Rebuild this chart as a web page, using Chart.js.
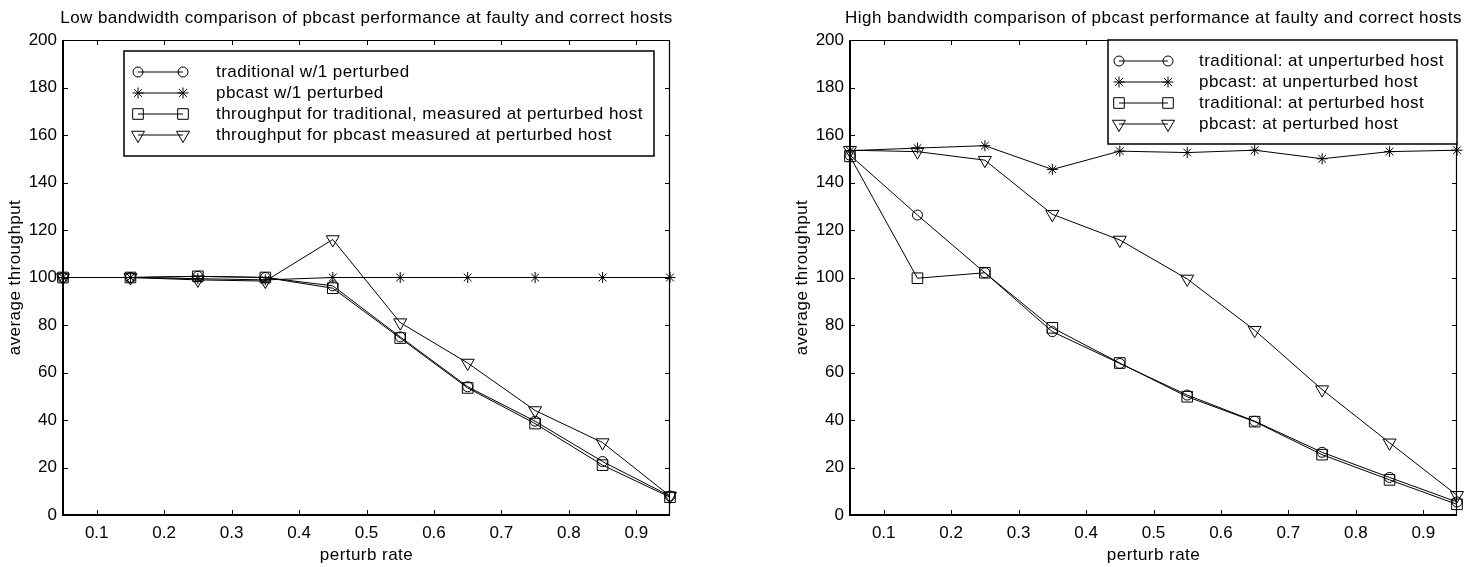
<!DOCTYPE html>
<html>
<head>
<meta charset="utf-8">
<title>pbcast throughput at faulty and correct hosts</title>
<script src="https://cdn.jsdelivr.net/npm/chart.js@4.4.1/dist/chart.umd.min.js"></script>
<style>
  body { margin: 0; background: #fff; }
  .box { position: absolute; top: 0; height: 567px; }
  #boxLow { left: 0; width: 700px; }
  #boxHigh { left: 740px; width: 743px; }
</style>
</head>
<body>
<div class="box" id="boxLow"><canvas id="lowChart" width="700" height="567"></canvas></div>
<div class="box" id="boxHigh"><canvas id="highChart" width="743" height="567"></canvas></div>
<script>
const perturbRates = [0.05, 0.15, 0.25, 0.35, 0.45, 0.55, 0.65, 0.75, 0.85, 0.95];
const xTicks = [0.1, 0.2, 0.3, 0.4, 0.5, 0.6, 0.7, 0.8, 0.9];
const yTicks = [0, 20, 40, 60, 80, 100, 120, 140, 160, 180, 200];

// low bandwidth run
const lowLabels = [
    'traditional w/1 perturbed',
    'pbcast w/1 perturbed',
    'throughput for traditional, measured at perturbed host',
    'throughput for pbcast measured at perturbed host'
];
const lowTraditional = [100, 100, 100.5, 100, 96.5, 75, 54, 39.5, 22.5, 8];
const lowPbcast = [100, 100, 99.5, 99, 100, 100, 100, 100, 100, 100];
const lowTradPerturbed = [100, 100, 100.5, 100, 95.5, 74.5, 53.5, 38.5, 21, 7.5];
const lowPbcastPerturbed = [100, 100, 99, 98.5, 116, 81, 64, 44, 30.5, 8];

// high bandwidth run
const highLabels = [
    'traditional: at unperturbed host',
    'pbcast: at unperturbed host',
    'traditional: at perturbed host',
    'pbcast: at perturbed host'
];
const highTraditional = [151.5, 126.3, 102, 77.2, 63.8, 50.5, 39.5, 26.4, 15.8, 5.5];
const highPbcast = [153.4, 154.5, 155.5, 145.5, 153.2, 152.6, 153.6, 150, 153, 153.6];
const highTradPerturbed = [151, 99.7, 102, 78.8, 64, 49.8, 39.3, 25.4, 14.8, 4.5];
const highPbcastPerturbed = [153.6, 153, 149.4, 126.6, 115.8, 99.4, 77.8, 52.8, 30.4, 8.3];

const FONT = "'Liberation Sans', Arial, sans-serif";
Chart.defaults.font.family = FONT;
Chart.defaults.font.size = 17;
Chart.defaults.color = '#000';

// marker per series, same order in both plots
const markers = [
    { style: 'circle', radius: 5, rotation: 0 },
    { style: 'star', radius: 5.5, rotation: 0 },
    { style: 'rect', radius: 7.5, rotation: 0 },
    { style: 'triangle', radius: 7.5, rotation: 180 }
];

function buildDatasets(labels, lists) {
    return lists.map((vals, i) => ({
        label: labels[i],
        data: perturbRates.map((x, j) => ({ x: x, y: vals[j] })),
        borderColor: '#000',
        borderWidth: 1,
        pointStyle: markers[i].style,
        pointRadius: markers[i].radius,
        pointRotation: markers[i].rotation,
        pointBorderColor: '#000',
        pointBackgroundColor: 'rgba(0,0,0,0)',
        pointBorderWidth: 1,
        pointHoverRadius: markers[i].radius,
        tension: 0,
        fill: false,
        clip: false
    }));
}

// box, inward ticks, titles and the matlab style legend
const matlabFrame = {
    id: 'matlabFrame',
    afterDatasetsDraw(chart, args, opts) {
        const ctx = chart.ctx;
        const a = chart.chartArea;
        const xs = chart.scales.x;
        const ys = chart.scales.y;
        ctx.save();
        ctx.strokeStyle = '#000';
        ctx.fillStyle = '#000';

        // frame
        ctx.lineWidth = 1.2;
        ctx.beginPath();
        ctx.moveTo(a.left, a.top + 0.5);
        ctx.lineTo(a.right, a.top + 0.5);
        ctx.moveTo(a.right - 0.5, a.top);
        ctx.lineTo(a.right - 0.5, a.bottom);
        ctx.stroke();
        ctx.lineWidth = 2;
        ctx.beginPath();
        ctx.moveTo(a.left, a.top);
        ctx.lineTo(a.left, a.bottom);
        ctx.lineTo(a.right, a.bottom);
        ctx.stroke();

        // ticks pointing in
        ctx.lineWidth = 1;
        ctx.beginPath();
        xTicks.forEach(v => {
            const px = Math.round(xs.getPixelForValue(v)) + 0.5;
            ctx.moveTo(px, a.bottom); ctx.lineTo(px, a.bottom - 5);
            ctx.moveTo(px, a.top); ctx.lineTo(px, a.top + 5);
        });
        yTicks.forEach(v => {
            const py = Math.round(ys.getPixelForValue(v)) + 0.5;
            ctx.moveTo(a.left, py); ctx.lineTo(a.left + 5, py);
            ctx.moveTo(a.right, py); ctx.lineTo(a.right - 5, py);
        });
        ctx.stroke();

        // titles
        ctx.font = '17px ' + FONT;
        ctx.letterSpacing = '0.45px';
        ctx.textAlign = 'center';
        ctx.textBaseline = 'alphabetic';
        ctx.fillText(opts.title, (a.left + a.right) / 2, 23);
        ctx.fillText('perturb rate', (a.left + a.right) / 2, 560);
        ctx.save();
        ctx.translate(a.left - 48, (a.top + a.bottom) / 2);
        ctx.rotate(-Math.PI / 2);
        ctx.textBaseline = 'middle';
        ctx.fillText('average throughput', 0, 0);
        ctx.restore();

        // legend
        const lg = opts.legend;
        const bx = lg.right ? a.right - lg.width : a.left + lg.left;
        const by = a.top + lg.top;
        ctx.fillStyle = '#fff';
        ctx.fillRect(bx, by, lg.width, lg.height);
        ctx.lineWidth = 1.5;
        ctx.strokeRect(bx, by, lg.width, lg.height);
        ctx.textAlign = 'left';
        ctx.textBaseline = 'middle';
        chart.data.datasets.forEach((ds, i) => {
            const ry = by + 21 + i * 21;
            const x1 = bx + lg.lineFrom;
            const x2 = bx + lg.lineTo;
            ctx.strokeStyle = '#000';
            ctx.lineWidth = 1;
            ctx.beginPath();
            ctx.moveTo(x1, ry);
            ctx.lineTo(x2, ry);
            ctx.stroke();
            ctx.fillStyle = 'rgba(0,0,0,0)';
            const m = { pointStyle: markers[i].style, radius: markers[i].radius, rotation: markers[i].rotation, borderWidth: 1 };
            if (Chart.helpers && Chart.helpers.drawPoint) {
                Chart.helpers.drawPoint(ctx, m, x1, ry);
                Chart.helpers.drawPoint(ctx, m, x2, ry);
            }
            ctx.fillStyle = '#000';
            ctx.fillText(ds.label, bx + lg.text, ry);
        });
        ctx.restore();
    }
};

function makeChart(canvasId, labels, lists, title, axisWidth, rightPad, legend) {
    return new Chart(document.getElementById(canvasId), {
        type: 'line',
        data: { datasets: buildDatasets(labels, lists) },
        options: {
            responsive: false,
            animation: false,
            devicePixelRatio: 1,
            layout: { padding: { left: 0, top: 40, right: rightPad, bottom: 0 } },
            plugins: {
                legend: { display: false },
                tooltip: { enabled: false },
                matlabFrame: { title: title, legend: legend }
            },
            scales: {
                x: {
                    type: 'linear',
                    min: 0.05,
                    max: 0.95,
                    grid: { display: false, drawTicks: false, tickLength: 0 },
                    border: { display: false },
                    afterBuildTicks: s => { s.ticks = xTicks.map(v => ({ value: v })); },
                    afterFit: s => { s.height = 52; },
                    ticks: { padding: 8, maxRotation: 0, autoSkip: false }
                },
                y: {
                    min: 0,
                    max: 200,
                    grid: { display: false, drawTicks: false, tickLength: 0 },
                    border: { display: false },
                    afterBuildTicks: s => { s.ticks = yTicks.map(v => ({ value: v })); },
                    afterFit: s => { s.width = axisWidth; },
                    ticks: { padding: 6, autoSkip: false }
                }
            }
        },
        plugins: [matlabFrame]
    });
}

makeChart('lowChart', lowLabels,
    [lowTraditional, lowPbcast, lowTradPerturbed, lowPbcastPerturbed],
    'Low bandwidth comparison of pbcast performance at faulty and correct hosts',
    63, 30,
    { right: false, left: 61, top: 11, width: 530, height: 105, lineFrom: 14, lineTo: 59, text: 92 });

makeChart('highChart', highLabels,
    [highTraditional, highPbcast, highTradPerturbed, highPbcastPerturbed],
    'High bandwidth comparison of pbcast performance at faulty and correct hosts',
    110, 26,
    { right: true, top: 0, width: 349, height: 104, lineFrom: 11, lineTo: 60, text: 91 });
</script>
</body>
</html>
